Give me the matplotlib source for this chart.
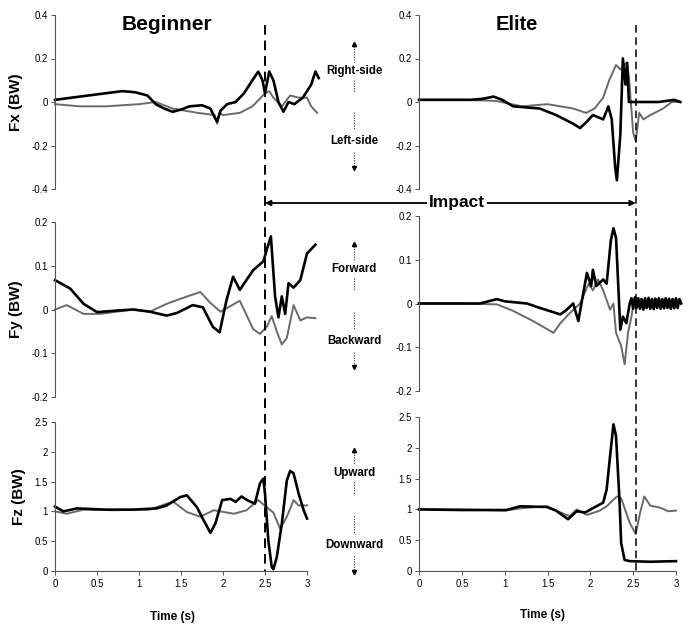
import matplotlib
matplotlib.use('Agg')
import matplotlib.pyplot as plt
import matplotlib.transforms as mtrans
from matplotlib.lines import Line2D

plt.rcParams['font.family'] = ['Liberation Sans', 'DejaVu Sans']

W, H = 689, 627

# ---- data (time in s, force in BW) ----
# Beginner Fx
beg_fx_t1 = [0, 0.2, 0.4, 0.6, 0.8, 0.95, 1.1, 1.2, 1.3, 1.4, 1.5, 1.6, 1.75, 1.85, 1.9, 1.93,
             1.97, 2.05, 2.15, 2.25, 2.35, 2.42, 2.47, 2.5, 2.55, 2.6, 2.66, 2.72, 2.78, 2.85,
             2.95, 3.05, 3.1, 3.14]
beg_fx_v1 = [0.01, 0.02, 0.03, 0.04, 0.05, 0.045, 0.03, -0.01, -0.03, -0.045, -0.035, -0.02,
             -0.015, -0.03, -0.07, -0.09, -0.04, -0.01, 0.0, 0.04, 0.1, 0.14, 0.1, 0.04, 0.14,
             0.1, 0.0, -0.045, 0.0, -0.01, 0.02, 0.08, 0.14, 0.11]
beg_fx_t2 = [0, 0.3, 0.6, 1.0, 1.2, 1.4, 1.7, 1.9, 1.93, 1.96, 2.0, 2.2, 2.35, 2.45, 2.5, 2.55,
             2.6, 2.7, 2.8, 2.9, 3.0, 3.05, 3.12]
beg_fx_v2 = [-0.01, -0.02, -0.02, -0.01, 0.0, -0.03, -0.05, -0.06, -0.1, -0.05, -0.06, -0.05,
             -0.02, 0.02, 0.04, 0.05, 0.02, -0.02, 0.03, 0.02, 0.02, -0.02, -0.05]

# Elite Fx
eli_fx_t1 = [0, 0.3, 0.6, 0.75, 0.87, 0.97, 1.1, 1.41, 1.6, 1.8, 1.88, 1.96, 2.03, 2.15, 2.21,
             2.25, 2.29, 2.31, 2.35, 2.38, 2.41, 2.43, 2.45, 2.5, 2.8, 2.98, 3.05]
eli_fx_v1 = [0.01, 0.01, 0.01, 0.015, 0.025, 0.01, -0.02, -0.03, -0.06, -0.1, -0.12, -0.09,
             -0.06, -0.08, -0.02, -0.08, -0.3, -0.36, -0.15, 0.2, 0.08, 0.18, 0.0, 0.0, 0.0,
             0.01, 0.0]
eli_fx_t2 = [0, 0.5, 0.9, 1.2, 1.5, 1.8, 1.95, 2.05, 2.15, 2.22, 2.3, 2.35, 2.42, 2.45, 2.5,
             2.53, 2.57, 2.62, 2.7, 2.85, 2.95, 3.05]
eli_fx_v2 = [0.01, 0.01, 0.005, -0.02, -0.01, -0.03, -0.05, -0.03, 0.02, 0.1, 0.17, 0.15,
             0.18, 0.12, -0.14, -0.18, -0.05, -0.08, -0.06, -0.03, 0.0, 0.0]

# Beginner Fy
beg_fy_t1 = [0, 0.18, 0.34, 0.5, 0.7, 0.93, 1.13, 1.33, 1.45, 1.64, 1.76, 1.88, 1.96, 2.04,
             2.12, 2.2, 2.36, 2.48, 2.52, 2.57, 2.62, 2.66, 2.7, 2.74, 2.78, 2.84, 2.92, 3.0,
             3.1]
beg_fy_v1 = [0.067, 0.048, 0.013, -0.006, -0.003, 0.0, -0.005, -0.014, -0.008, 0.01, 0.005,
             -0.04, -0.052, 0.02, 0.075, 0.045, 0.09, 0.11, 0.136, 0.167, 0.03, -0.018, 0.03,
             -0.01, 0.06, 0.05, 0.067, 0.128, 0.148]
beg_fy_t2 = [0, 0.14, 0.34, 0.54, 0.93, 1.13, 1.33, 1.5, 1.73, 1.85, 1.97, 2.2, 2.36, 2.44,
             2.52, 2.58, 2.64, 2.7, 2.76, 2.84, 2.92, 3.0, 3.1]
beg_fy_v2 = [0.0, 0.01, -0.01, -0.01, 0.0, -0.005, 0.013, 0.025, 0.04, 0.015, -0.005, 0.02,
             -0.045, -0.056, -0.04, -0.015, -0.05, -0.08, -0.065, 0.01, -0.025, -0.018,
             -0.02]

# Elite Fy
eli_fy_t1 = [0, 0.3, 0.71, 0.91, 1.0, 1.26, 1.41, 1.65, 1.72, 1.8, 1.86, 1.96, 2.01, 2.03,
             2.07, 2.15, 2.19, 2.24, 2.27, 2.3, 2.35, 2.38, 2.42, 2.46, 2.48, 2.5, 2.52, 2.54,
             2.56, 2.58, 2.6, 2.62, 2.64, 2.66, 2.68, 2.7, 2.72, 2.74, 2.76, 2.78, 2.8, 2.82,
             2.84, 2.86, 2.88, 2.9, 2.92, 2.94, 2.96, 2.98, 3.0, 3.02, 3.04, 3.06]
eli_fy_v1 = [0.0, 0.0, 0.0, 0.01, 0.005, 0.0, -0.01, -0.025, -0.015, 0.0, -0.04, 0.07, 0.04,
             0.077, 0.04, 0.055, 0.045, 0.145, 0.172, 0.15, -0.06, -0.03, -0.045, 0.0, 0.012,
             -0.012, 0.014, -0.01, 0.012, -0.012, 0.01, -0.014, 0.012, -0.01, 0.013, -0.012,
             0.01, -0.013, 0.011, -0.01, 0.012, -0.012, 0.01, -0.011, 0.012, -0.01, 0.011,
             -0.012, 0.01, -0.011, 0.012, -0.01, 0.01, 0.0]
eli_fy_t2 = [0, 0.5, 0.91, 1.1, 1.33, 1.57, 1.65, 1.76, 1.88, 1.98, 2.03, 2.09, 2.15, 2.23,
             2.27, 2.3, 2.36, 2.4, 2.44, 2.48, 2.51, 2.53, 2.55, 2.57, 2.59, 2.61, 2.63, 2.65,
             2.67, 2.69, 2.71, 2.73, 2.75, 2.77, 2.79, 2.81, 2.83, 2.85, 2.87, 2.89, 2.91, 2.93,
             2.95, 2.97, 2.99, 3.01, 3.03, 3.05]
eli_fy_v2 = [0.0, 0.0, -0.002, -0.017, -0.04, -0.067, -0.045, -0.022, 0.0, 0.045, 0.03, 0.055,
             0.03, -0.014, 0.0, -0.067, -0.097, -0.139, -0.067, -0.03, 0.008, -0.01, 0.01,
             -0.008, 0.011, -0.009, 0.008, -0.01, 0.01, -0.008, 0.009, -0.011, 0.01, -0.008,
             0.009, -0.01, 0.008, -0.009, 0.01, -0.008, 0.009, -0.01, 0.008, -0.009, 0.01,
             -0.008, 0.006, 0.005]

# Beginner Fz
beg_fz_t1 = [0, 0.1, 0.26, 0.6, 0.93, 1.21, 1.33, 1.49, 1.57, 1.69, 1.77, 1.85, 1.91, 1.99,
             2.09, 2.15, 2.22, 2.3, 2.38, 2.44, 2.48, 2.5, 2.54, 2.58, 2.6, 2.64, 2.7, 2.76,
             2.8, 2.84, 2.9, 2.96, 3.0]
beg_fz_v1 = [1.08, 1.0, 1.05, 1.03, 1.03, 1.05, 1.1, 1.24, 1.27, 1.07, 0.85, 0.64, 0.8, 1.19,
             1.21, 1.16, 1.25, 1.18, 1.13, 1.47, 1.55, 1.3, 0.51, 0.07, 0.03, 0.23, 0.79, 1.52,
             1.68, 1.64, 1.3, 1.02, 0.88]
beg_fz_t2 = [0, 0.14, 0.34, 0.7, 1.13, 1.33, 1.41, 1.57, 1.73, 1.89, 2.13, 2.28, 2.42, 2.52,
             2.6, 2.68, 2.76, 2.84, 2.9, 3.0]
beg_fz_v2 = [1.0, 0.96, 1.03, 1.02, 1.03, 1.13, 1.16, 0.99, 0.91, 1.02, 0.96, 1.02, 1.19,
             1.07, 0.98, 0.71, 0.91, 1.19, 1.1, 1.1]

# Elite Fz
eli_fz_t1 = [0, 0.5, 1.02, 1.18, 1.49, 1.6, 1.74, 1.84, 1.94, 2.03, 2.15, 2.19, 2.23, 2.27,
             2.3, 2.34, 2.36, 2.4, 2.46, 2.7, 3.0]
eli_fz_v1 = [1.0, 0.99, 0.99, 1.05, 1.04, 0.98, 0.84, 0.97, 0.95, 1.02, 1.11, 1.32, 1.86, 2.38,
             2.19, 1.16, 0.45, 0.18, 0.16, 0.15, 0.16]
eli_fz_t2 = [0, 0.5, 1.0, 1.2, 1.5, 1.6, 1.76, 1.84, 1.96, 2.11, 2.19, 2.31, 2.36, 2.46,
             2.53, 2.58, 2.63, 2.7, 2.81, 2.91, 3.0]
eli_fz_v2 = [1.0, 1.0, 0.98, 1.02, 1.05, 0.98, 0.89, 1.0, 0.91, 0.98, 1.05, 1.21, 1.18, 0.78,
             0.6, 0.94, 1.21, 1.06, 1.03, 0.97, 0.98]

impact_beg = 2.5
impact_eli = 2.53

panels = [
    # (left px, top px, right px, bottom px, ylim, yticks, ylabel)
    ((55, 15, 307, 189), (-0.4, 0.4), [-0.4, -0.2, 0, 0.2, 0.4], 'Fx (BW)',
     (beg_fx_t1, beg_fx_v1, beg_fx_t2, beg_fx_v2)),
    ((419, 15, 676, 189), (-0.4, 0.4), [-0.4, -0.2, 0, 0.2, 0.4], None,
     (eli_fx_t1, eli_fx_v1, eli_fx_t2, eli_fx_v2)),
    ((55, 222, 307, 397), (-0.2, 0.2), [-0.2, -0.1, 0, 0.1, 0.2], 'Fy (BW)',
     (beg_fy_t1, beg_fy_v1, beg_fy_t2, beg_fy_v2)),
    ((419, 216, 676, 391), (-0.2, 0.2), [-0.2, -0.1, 0, 0.1, 0.2], None,
     (eli_fy_t1, eli_fy_v1, eli_fy_t2, eli_fy_v2)),
    ((55, 422, 307, 571), (0, 2.5), [0, 0.5, 1, 1.5, 2, 2.5], 'Fz (BW)',
     (beg_fz_t1, beg_fz_v1, beg_fz_t2, beg_fz_v2)),
    ((419, 417, 676, 571), (0, 2.5), [0, 0.5, 1, 1.5, 2, 2.5], None,
     (eli_fz_t1, eli_fz_v1, eli_fz_t2, eli_fz_v2)),
]


def fmt(v):
    return ('%g' % v)


fig = plt.figure(figsize=(W / 100, H / 100), dpi=100)
axes = []
for i, (box, ylim, yticks, ylabel, data) in enumerate(panels):
    l, t, r, b = box
    ax = fig.add_axes([l / W, 1 - b / H, (r - l) / W, (b - t) / H])
    ax.set_xlim(0, 3)
    ax.set_ylim(*ylim)
    ax.set_yticks(yticks)
    ax.set_yticklabels([fmt(v) for v in yticks])
    for s in ['top', 'right']:
        ax.spines[s].set_visible(False)
    ax.spines['left'].set_color('#555555')
    ax.spines['left'].set_linewidth(0.8)
    ax.tick_params(axis='y', length=3, width=0.7, color='#555555', labelsize=7, pad=2)
    if i >= 4:
        ax.spines['bottom'].set_color('#555555')
        ax.spines['bottom'].set_linewidth(0.8)
        ax.set_xticks([0, 0.5, 1, 1.5, 2, 2.5, 3])
        ax.set_xticklabels([fmt(v) for v in [0, 0.5, 1, 1.5, 2, 2.5, 3]])
        ax.tick_params(axis='x', length=3, width=0.7, color='#555555', labelsize=7, pad=3)
    else:
        ax.spines['bottom'].set_visible(False)
        ax.set_xticks([])
    if ylabel:
        ax.set_ylabel(ylabel, fontsize=11, fontweight='bold', labelpad=6)
    t1, v1, t2, v2 = data
    ax.plot(t2, v2, color='#6a6a6a', lw=1.4, clip_on=False)
    ax.plot(t1, v1, color='black', lw=1.9, clip_on=False)
    axes.append(ax)

fig.text(167 / W, 1 - 25 / H, 'Beginner', fontsize=15, fontweight='bold', ha='center', va='center')
fig.text(517 / W, 1 - 25 / H, 'Elite', fontsize=14.5, fontweight='bold', ha='center', va='center')
fig.text(173 / W, 1 - 617 / H, 'Time (s)', fontsize=8.5, fontweight='bold', ha='center', va='center')
fig.text(543 / W, 1 - 615 / H, 'Time (s)', fontsize=8.5, fontweight='bold', ha='center', va='center')

# impact lines spanning the whole column
y_top = 1 - 25 / H
y_bot = 1 - 571 / H
for ax, ti in [(axes[4], impact_beg), (axes[5], impact_eli)]:
    tr = mtrans.blended_transform_factory(ax.transData, fig.transFigure)
    fig.add_artist(Line2D([ti, ti], [y_top, y_bot], transform=tr, color='black',
                          lw=1.4 if ax is axes[4] else 1.1, ls=(0, (5, 3))))

# impact arrow
y_arr = 1 - 203 / H
tr_l = mtrans.blended_transform_factory(axes[4].transData, fig.transFigure)
tr_r = mtrans.blended_transform_factory(axes[5].transData, fig.transFigure)
axes[4].annotate('', xy=(impact_beg, y_arr), xycoords=tr_l,
                 xytext=(impact_eli, y_arr), textcoords=tr_r,
                 arrowprops=dict(arrowstyle='<|-|>', color='black', lw=1.3,
                                 mutation_scale=8, shrinkA=0, shrinkB=0),
                 annotation_clip=False)
fig.text(457 / W, y_arr, 'Impact', fontsize=12.5, fontweight='bold', ha='center', va='center',
         bbox=dict(facecolor='white', edgecolor='none', pad=1.5))

# direction labels in the middle column
xc = 354 / W
dirs = [('Right-side', 71, 'Left-side', 141, 44, 168),
        ('Forward', 269, 'Backward', 341, 244, 367),
        ('Upward', 473, 'Downward', 545, 450, 572)]
for up_lab, up_y, dn_lab, dn_y, tip_up, tip_dn in dirs:
    fig.text(xc, 1 - up_y / H, up_lab, fontsize=8.3, fontweight='bold', ha='center', va='center')
    fig.text(xc, 1 - dn_y / H, dn_lab, fontsize=8.3, fontweight='bold', ha='center', va='center')
    segs = [(tip_up + 2, up_y - 9), (up_y + 9, up_y + 21), (dn_y - 29, dn_y - 11),
            (dn_y + 11, tip_dn - 2)]
    for a, b in segs:
        fig.add_artist(Line2D([xc, xc], [1 - a / H, 1 - b / H], color='#333333', lw=0.8,
                              ls=(0, (1, 1.3))))
    fig.add_artist(Line2D([xc], [1 - tip_up / H], marker='^', ms=3, color='black'))
    fig.add_artist(Line2D([xc], [1 - tip_dn / H], marker='v', ms=3, color='black'))

fig.savefig('out.png', dpi=100, facecolor='white')
